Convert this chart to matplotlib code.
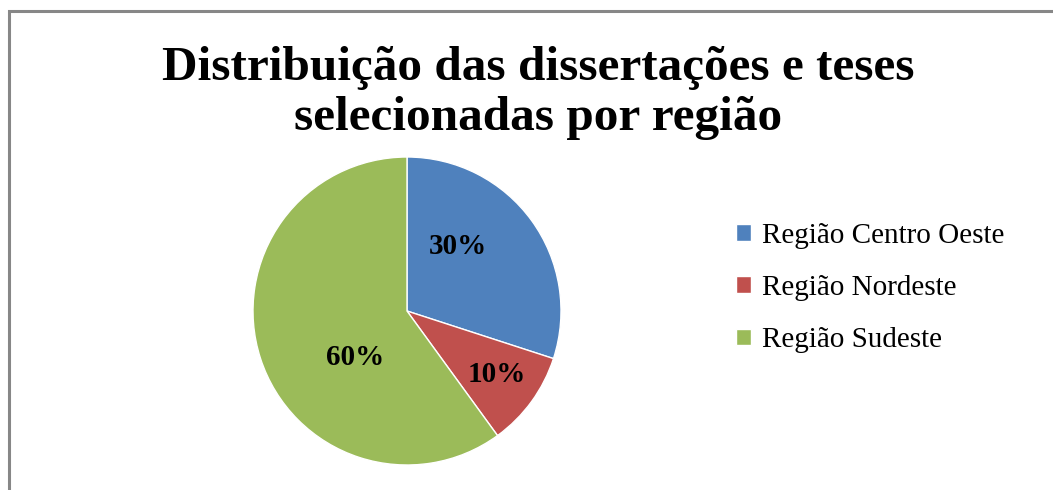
import matplotlib.pyplot as plt
from matplotlib.patches import Rectangle

# data
regioes = ['Região Centro Oeste', 'Região Nordeste', 'Região Sudeste']
percentuais = [30, 10, 60]
cores = ['#4F81BD', '#C0504D', '#9BBB59']
titulo = 'Distribuição das dissertações e teses\nselecionadas por região'

plt.rcParams['font.family'] = ['Liberation Serif', 'DejaVu Serif']

W, H = 1053, 490
fig = plt.figure(figsize=(W / 100, H / 100), dpi=100)

# gray frame like the excel chart area (only top and left visible)
fig.patches.append(Rectangle((9 / W, -0.1), 1.2, 1 - 11 / H + 0.1, transform=fig.transFigure,
                             fill=False, edgecolor='#878787', linewidth=2.2))

cx, cy, r = 407, 311, 154
ax = fig.add_axes([(cx - r) / W, (H - cy - r) / H, 2 * r / W, 2 * r / H])
wedges, textos, pcts = ax.pie(percentuais, colors=cores, startangle=90, counterclock=False,
                              autopct='%d%%', pctdistance=0.6,
                              wedgeprops=dict(edgecolor='white', linewidth=1),
                              textprops=dict(fontsize=21, fontweight='bold', color='black'))
ax.set_xlim(-1, 1)
ax.set_ylim(-1, 1)

# label placement like excel's best fit
pos_labels = [(0.33, 0.42), (0.58, -0.41), (-0.34, -0.30)]
for t, p in zip(pcts, pos_labels):
    t.set_position(p)

fig.text(538 / W, 1 - 93 / H, titulo, ha='center', va='center', fontsize=35.5,
         fontweight='bold', linespacing=1.2)

fig.legend(wedges, regioes, loc='center left', bbox_to_anchor=(710 / W, 1 - 288 / H),
           frameon=False, fontsize=21, handlelength=0.5, handleheight=0.5,
           handletextpad=0.4, labelspacing=0.9)

fig.savefig('out.png', dpi=100)
